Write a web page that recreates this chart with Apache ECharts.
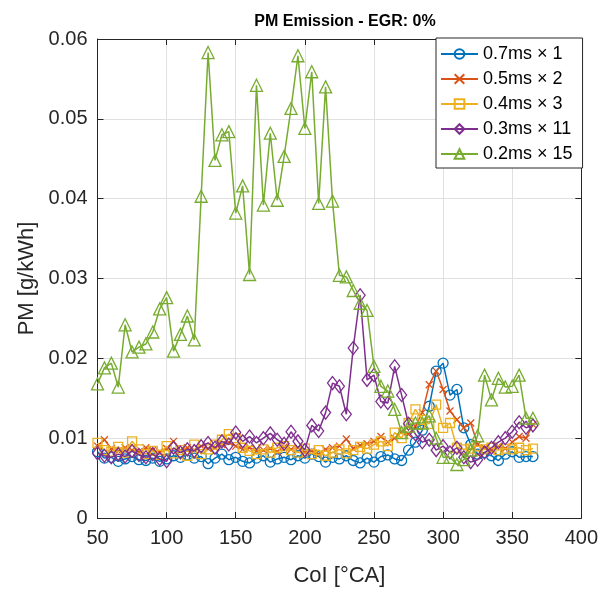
<!DOCTYPE html>
<html>
<head>
<meta charset="utf-8">
<script src="https://cdn.jsdelivr.net/npm/echarts@6/dist/echarts.min.js"></script>
<style>html,body{margin:0;padding:0;background:#fff}#c{width:601px;height:592px}</style>
</head>
<body>
<div id="c"></div>
<script>
// CoI [°CA]
const coi = [];
for (let v = 50; v <= 365; v += 5) coi.push(v);

const seriesNames = ['0.7ms \u00d7 1', '0.5ms \u00d7 2', '0.4ms \u00d7 3', '0.3ms \u00d7 11', '0.2ms \u00d7 15'];

const pm07x1 = [.0083,.0075,.0076,.0071,.0074,.0077,.0073,.0072,.0075,.0071,.0074,.0078,.0076,.0079,.0075,.0077,.0068,.0075,.0080,.0073,.0076,.0071,.0069,.0075,.0078,.0070,.0074,.0076,.0073,.0078,.0075,.0080,.0077,.0070,.0076,.0074,.0078,.0072,.0069,.0075,.0070,.0077,.0079,.0074,.0072,.0085,.0095,.0110,.0140,.0184,.0194,.0154,.0161,.0113,.0092,.0080,.0082,.0078,.0072,.0080,.0083,.0076,.0077,.0077];

const pm05x2 = [.0090,.0098,.0087,.0084,.0088,.0085,.0083,.0088,.0085,.0083,.0087,.0096,.0085,.0088,.0085,.0090,.0087,.0088,.0092,.0095,.0090,.0086,.0088,.0084,.0085,.0087,.0083,.0089,.0086,.0088,.0082,.0084,.0080,.0086,.0088,.0090,.0099,.0087,.0091,.0093,.0096,.0102,.0095,.0100,.0108,.0105,.0115,.0132,.0167,.0184,.0161,.0134,.0123,.0113,.0119,.0092,.0088,.0085,.0090,.0087,.0095,.0102,.0100,.0117];

const pm04x3 = [.0094,.0085,.0083,.0089,.0082,.0096,.0086,.0080,.0084,.0079,.0090,.0081,.0085,.0078,.0092,.0080,.0086,.0092,.0098,.0105,.0100,.0088,.0084,.0080,.0086,.0082,.0088,.0090,.0085,.0082,.0087,.0080,.0085,.0078,.0082,.0086,.0081,.0085,.0089,.0087,.0092,.0096,.0090,.0107,.0100,.0119,.0136,.0123,.0118,.0142,.0113,.0119,.0088,.0086,.0087,.0084,.0086,.0088,.0085,.0087,.0086,.0088,.0085,.0087];

const pm03x11 = [.0081,.0078,.0076,.0080,.0077,.0084,.0079,.0076,.0080,.0074,.0071,.0088,.0082,.0086,.0084,.0090,.0094,.0088,.0096,.0092,.0107,.0096,.0102,.0094,.0100,.0106,.0098,.0093,.0108,.0096,.0085,.0116,.0109,.0132,.0169,.0165,.0130,.0213,.0279,.0173,.0179,.0146,.0144,.0190,.0154,.0118,.0105,.0095,.0098,.0085,.0090,.0082,.0088,.0076,.0070,.0073,.0082,.0088,.0095,.0100,.0108,.0120,.0113,.0116];

const pm02x15 = [.0168,.0188,.0194,.0164,.0242,.0208,.0214,.0218,.0233,.0262,.0276,.0209,.0230,.0253,.0223,
  .0403,.0583,.0448,.0480,.0484,.0382,.0416,.0305,.0542,.0392,.0482,.0398,.0453,.0513,.0579,.0488,.0559,.0394,.0540,.0397,.0304,.0302,
  .0285,.0269,.0260,.0190,.0165,.0159,
  .0136,.0107,.0115,.0119,.0119,.0128,.0100,.0076,.0076,.0067,.0073,.0085,.0103,.0179,.0148,.0175,.0164,.0165,.0179,.0125,.0125];

const xTicks = [50, 100, 150, 200, 250, 300, 350, 400];
const yTicks = [0, 0.01, 0.02, 0.03, 0.04, 0.05, 0.06];

const colors = ['#0072BD', '#D95319', '#EDB120', '#7E2F8E', '#77AC30'];
const symbols = ['circle', 'path://M0,0L10,10M10,0L0,10', 'rect', 'diamond', 'triangle'];
const symSizes = [10, 7, 9, [10, 13], 12];
const allData = [pm07x1, pm05x2, pm04x3, pm03x11, pm02x15];

const FONT = 'Liberation Sans, Arial, sans-serif';
const chart = echarts.init(document.getElementById('c'), null, {renderer: 'canvas'});

const series = allData.map((arr, i) => ({
  name: seriesNames[i],
  type: 'line',
  data: coi.map((x, j) => [x, arr[j]]),
  symbol: symbols[i],
  symbolSize: symSizes[i],
  showAllSymbol: true,
  lineStyle: {color: colors[i], width: 1.5},
  itemStyle: {color: 'rgba(0,0,0,0)', borderColor: colors[i], borderWidth: 1.3},
  emphasis: {disabled: true},
  animation: false,
  z: 3 + i
}));

const axisTickInside = {show: true, inside: true, length: 6, lineStyle: {color: '#262626', width: 1}};
chart.setOption({
  animation: false,
  backgroundColor: '#fff',
  title: {
    text: 'PM Emission - EGR: 0%',
    left: 340, top: 9, textAlign: 'center',
    textStyle: {fontFamily: FONT, fontSize: 16, fontWeight: 'bold', color: '#000'}
  },
  legend: {
    orient: 'vertical',
    left: 436, top: 38,
    padding: [7, 10, 5, 4],
    itemGap: 7,
    itemWidth: 37, itemHeight: 12,
    backgroundColor: '#fff',
    borderColor: '#262626', borderWidth: 1, borderRadius: 0,
    textStyle: {fontFamily: FONT, fontSize: 18, color: '#000'},
    data: seriesNames
  },
  grid: {left: 97.5, right: 19, top: 39, bottom: 71, containLabel: false},
  xAxis: [{
    type: 'value', min: 50, max: 400, interval: 50,
    name: 'CoI [\u00b0CA]', nameLocation: 'middle', nameGap: 47,
    nameTextStyle: {fontFamily: FONT, fontSize: 22, color: '#262626'},
    axisLine: {show: true, onZero: false, lineStyle: {color: '#262626', width: 1}},
    axisTick: axisTickInside,
    axisLabel: {fontFamily: FONT, fontSize: 20, color: '#262626', margin: 10},
    splitLine: {show: true, lineStyle: {color: '#e0e0e0', width: 1}}
  }, {
    type: 'value', min: 50, max: 400, interval: 50, position: 'top',
    axisLine: {show: true, onZero: false, lineStyle: {color: '#262626', width: 1}},
    axisTick: axisTickInside, axisLabel: {show: false}, splitLine: {show: false}
  }],
  yAxis: [{
    type: 'value', min: 0, max: 0.06, interval: 0.01,
    name: 'PM [g/kWh]', nameLocation: 'middle', nameGap: 58,
    nameTextStyle: {fontFamily: FONT, fontSize: 22, color: '#262626'},
    axisLine: {show: true, onZero: false, lineStyle: {color: '#262626', width: 1}},
    axisTick: axisTickInside,
    axisLabel: {fontFamily: FONT, fontSize: 20, color: '#262626', margin: 10,
      formatter: v => (Math.abs(v) < 1e-9 ? '0' : v.toFixed(2))},
    splitLine: {show: true, lineStyle: {color: '#e0e0e0', width: 1}}
  }, {
    type: 'value', min: 0, max: 0.06, interval: 0.01, position: 'right',
    axisLine: {show: true, onZero: false, lineStyle: {color: '#262626', width: 1}},
    axisTick: axisTickInside, axisLabel: {show: false}, splitLine: {show: false}
  }],
  series: series
});
</script>
</body>
</html>
